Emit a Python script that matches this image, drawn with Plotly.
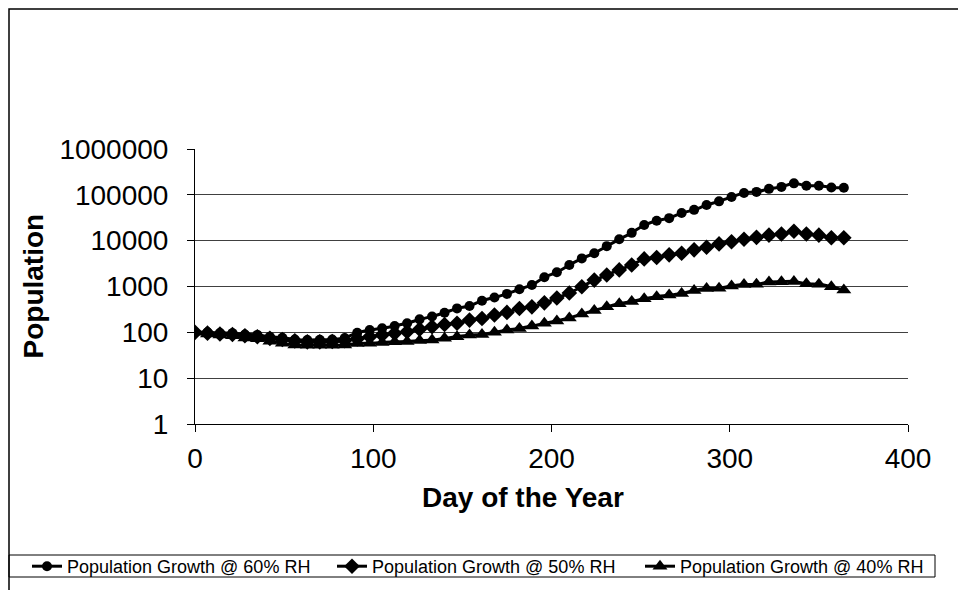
import plotly.graph_objects as go

days = [0, 7, 14, 21, 28, 35, 42, 49, 56, 63, 70, 77, 84, 91, 98, 105, 112, 119, 126, 133,
        140, 147, 154, 161, 168, 175, 182, 189, 196, 203, 210, 217, 224, 231, 238, 245, 252,
        259, 266, 273, 280, 287, 294, 301, 308, 315, 322, 329, 336, 343, 350, 357, 364]

rh60 = [100, 100, 97, 96, 90, 88, 80, 76, 70, 68, 69, 70, 75, 98, 112, 123, 138, 158, 192, 222,
        268, 333, 376, 490, 577, 690, 870, 1080, 1590, 2040, 2950, 4100, 5300, 7600, 10700, 14800, 21900,
        27300, 31000, 40000, 47000, 60000, 72000, 90000, 110000, 116000, 135000, 149000, 178000, 158000, 158000, 145000, 143000]

rh50 = [100, 96, 92, 90, 84, 80, 74, 70, 65, 62, 62, 63, 66, 72, 80, 88, 95, 103, 117, 132,
        148, 158, 185, 200, 238, 272, 330, 360, 440, 560, 720, 990, 1380, 1780, 2300, 2950, 4000,
        4300, 4900, 5300, 6300, 7200, 8500, 9500, 10700, 11800, 13200, 14000, 16000, 14000, 13200, 11600, 11600]

rh40 = [100, 92, 88, 84, 75, 72, 64, 58, 53, 52, 52, 52, 53, 57, 58, 60, 62, 63, 66, 68,
        74, 80, 88, 90, 100, 112, 122, 137, 157, 177, 205, 250, 300, 360, 420, 470, 540,
        600, 650, 700, 820, 900, 920, 1030, 1100, 1120, 1250, 1270, 1290, 1150, 1120, 990, 840]

series_names = ["Population Growth @ 60% RH", "Population Growth @ 50% RH", "Population Growth @ 40% RH"]
y_tickvals = [1, 10, 100, 1000, 10000, 100000, 1000000]
y_ticktext = ["1", "10", "100", "1000", "10000", "100000", "1000000"]
x_tickvals = [0, 100, 200, 300, 400]

FONT = "Liberation Sans, Arial, sans-serif"

# page body has an 8px margin; work in screen pixels and convert
OFF = 8
W, H = 958, 582
L, T = 195 - OFF, 149 - OFF
R = W - (908 - OFF)
B = H - (424 - OFF)
pw, ph = W - L - R, H - T - B

def px(sx):
    return (sx - OFF - L) / pw

def py(sy):
    return (H - B - (sy - OFF)) / ph

fig = go.Figure()
legend_ids = ["legend", "legend2", "legend3"]
for name, vals, sym, size, lg in [(series_names[0], rh60, "circle", 10, legend_ids[0]),
                                  (series_names[1], rh50, "diamond", 12, legend_ids[1]),
                                  (series_names[2], rh40, "triangle-up", 13, legend_ids[2])]:
    fig.add_trace(go.Scatter(
        x=days, y=vals, name=name, mode="lines+markers", legend=lg,
        line=dict(color="black", width=3, shape="spline", smoothing=0.8),
        marker=dict(symbol=sym, size=size, color="black"),
    ))

legend_style = dict(
    orientation="h", xanchor="left", yanchor="top",
    borderwidth=0, bgcolor="rgba(0,0,0,0)",
    font=dict(size=18, family=FONT, color="black"),
    itemwidth=30, y=py(548),
)

fig.update_layout(
    width=W, height=H, autosize=False,
    margin=dict(l=L, r=R, t=T, b=B, pad=0, autoexpand=False),
    paper_bgcolor="white", plot_bgcolor="white",
    font=dict(family=FONT, color="black"),
    showlegend=True,
    legend=dict(legend_style, x=px(27)),
    legend2=dict(legend_style, x=px(332)),
    legend3=dict(legend_style, x=px(640)),
    xaxis=dict(
        range=[0, 400], tickvals=x_tickvals, showgrid=False, zeroline=False,
        showline=True, linecolor="black", linewidth=1,
        ticks="outside", ticklen=7, tickcolor="black",
        tickfont=dict(size=28, family=FONT), ticklabelstandoff=2,
    ),
    yaxis=dict(
        type="log", range=[0, 6], tickvals=y_tickvals, ticktext=y_ticktext,
        showgrid=True, gridcolor="#404040", gridwidth=1, zeroline=False,
        showline=True, linecolor="black", linewidth=1,
        ticks="outside", ticklen=7, tickcolor="black",
        tickfont=dict(size=28, family=FONT), ticklabelstandoff=13,
    ),
    annotations=[
        dict(text="<b>Population</b>", textangle=-90, xref="paper", yref="paper",
             x=px(33), y=0.5, showarrow=False, font=dict(size=28, family=FONT),
             xanchor="center", yanchor="middle"),
        dict(text="<b>Day of the Year</b>", xref="paper", yref="paper",
             x=px(523), y=py(497), showarrow=False, font=dict(size=28, family=FONT),
             xanchor="center", yanchor="middle"),
    ],
    shapes=[
        dict(type="rect", xref="paper", yref="paper",
             x0=px(OFF + 1), x1=px(1100), y0=py(700), y1=py(OFF + 1),
             line=dict(color="black", width=1.5), fillcolor="rgba(0,0,0,0)", layer="below"),
        dict(type="rect", xref="paper", yref="paper",
             x0=px(OFF + 1), x1=px(935), y0=py(577), y1=py(555),
             line=dict(color="black", width=1), fillcolor="rgba(0,0,0,0)", layer="below"),
    ],
)

fig.write_html("out.html")
